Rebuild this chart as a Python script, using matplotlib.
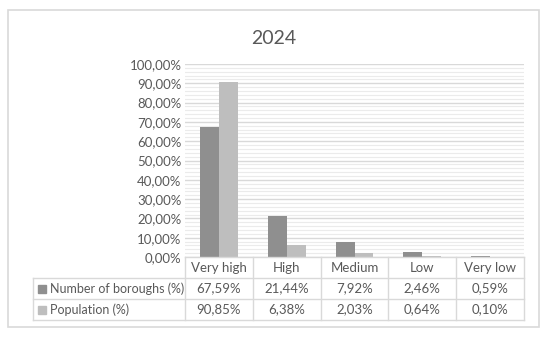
import numpy as np
import matplotlib
matplotlib.use("Agg")
import matplotlib.pyplot as plt
from matplotlib.ticker import MultipleLocator, FuncFormatter
from matplotlib.patches import Rectangle

plt.rcParams["font.family"] = ["Lato", "DejaVu Sans"]

categories = ["Very high", "High", "Medium", "Low", "Very low"]
boroughs = [67.59, 21.44, 7.92, 2.46, 0.59]
population = [90.85, 6.38, 2.03, 0.64, 0.10]
series_names = ["Number of boroughs (%)", "Population (%)"]
colors = ["#8f8f8f", "#bebebe"]
TXT = "#595959"
LINE = "#d9d9d9"

W, H = 550, 338
fig = plt.figure(figsize=(W / 100, H / 100), dpi=100)

# outer chart border
fig.patches.append(Rectangle((8 / W, 1 - 327 / H), (539 - 8) / W, (327 - 9.5) / H,
                             transform=fig.transFigure, fill=False,
                             edgecolor=LINE, lw=1.2))

fig.text(274 / W, 1 - 38 / H, "2024", ha="center", va="center", fontsize=14, color=TXT)

# plot area
ax = fig.add_axes([185 / W, 1 - 257 / H, 339 / W, 193 / H])
x = np.arange(len(categories)) + 0.5
bw = 0.28
ax.bar(x - bw / 2, boroughs, bw, color=colors[0], zorder=3)
ax.bar(x + bw / 2, population, bw, color=colors[1], zorder=3)
ax.set_xlim(0, len(categories))
ax.set_ylim(0, 100)
ax.yaxis.set_major_locator(MultipleLocator(10))
ax.yaxis.set_minor_locator(MultipleLocator(2))
ax.yaxis.set_major_formatter(FuncFormatter(lambda v, p: f"{v:.2f}%".replace(".", ",")))
ax.grid(axis="y", which="major", color=LINE, lw=1.0, zorder=0)
ax.grid(axis="y", which="minor", color="#ebebeb", lw=0.8, zorder=0)
ax.tick_params(axis="y", which="both", length=0, pad=2.5, labelsize=9.5, labelcolor=TXT)
ax.set_xticks([])
for s in ax.spines.values():
    s.set_visible(False)

# data table
left = -152 / (339 / 5)
tx = fig.add_axes([33 / W, 1 - 320 / H, 491 / W, 63 / H])
tx.set_xlim(left, len(categories))
tx.set_ylim(0, 3)
tx.axis("off")
kw = dict(color=LINE, lw=1.0, clip_on=False)
tx.plot([0, len(categories)], [3, 3], **kw)
for yy in [0, 1, 2]:
    tx.plot([left, len(categories)], [yy, yy], **kw)
tx.plot([left, left], [0, 2], **kw)
for i in range(len(categories) + 1):
    tx.plot([i, i], [0, 3], **kw)

for i, c in enumerate(categories):
    tx.text(i + 0.5, 2.5, c, ha="center", va="center", fontsize=9.5, color=TXT)
for row, (name, vals, col) in enumerate(zip(series_names, [boroughs, population], colors)):
    yy = 1.5 - row
    tx.plot([left + 9 / 67.8], [yy], marker="s", ms=5.5, color=col, clip_on=False)
    tx.text(left + 17 / 67.8, yy, name, ha="left", va="center", fontsize=9, color=TXT)
    for i, v in enumerate(vals):
        tx.text(i + 0.5, yy, f"{v:.2f}%".replace(".", ","), ha="center", va="center",
                fontsize=9.5, color=TXT)

fig.savefig("out.png", dpi=100)
